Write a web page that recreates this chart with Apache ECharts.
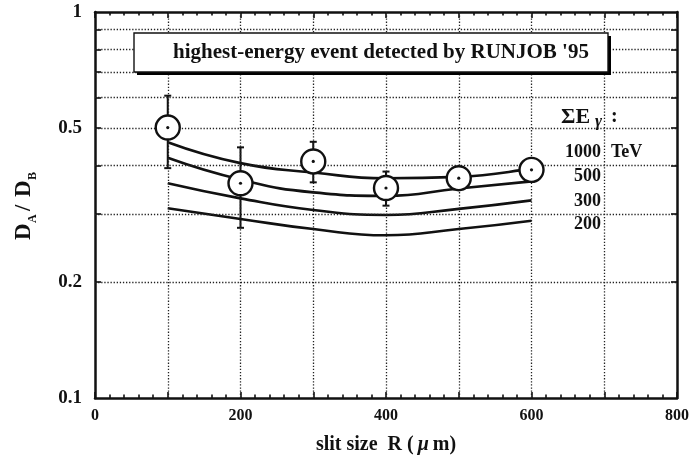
<!DOCTYPE html>
<html>
<head>
<meta charset="utf-8">
<script src="https://cdn.jsdelivr.net/npm/echarts@6/dist/echarts.min.js"></script>
<style>
  html, body { margin: 0; padding: 0; background: #fff; }
  #chart { width: 692px; height: 460px; }
</style>
</head>
<body>
<div id="chart"></div>
<script>
// Slit sizes (µm) and measured D_A/D_B ratios
const slitSizes = [100, 200, 300, 400, 500, 600];
const ratioMeasured = [0.502, 0.360, 0.410, 0.350, 0.371, 0.390];
const errorSizes = [100, 200, 300, 400];
const errorLow = [0.394, 0.276, 0.362, 0.315];
const errorHigh = [0.607, 0.446, 0.461, 0.386];

// Expected ratio curves for several total gamma energies
const curve1000 = [0.460, 0.406, 0.384, 0.371, 0.374, 0.394];
const curve500 = [0.419, 0.368, 0.341, 0.334, 0.349, 0.364];
const curve300 = [0.360, 0.329, 0.307, 0.298, 0.309, 0.325];
const curve200 = [0.310, 0.291, 0.274, 0.264, 0.274, 0.288];

// Axis ticks / labels
const yLabelValues = [0.1, 0.2, 0.5, 1];
const yGridValues = [0.2, 0.3, 0.4, 0.5, 0.6, 0.7, 0.8, 0.9];
const xGridValues = [100, 200, 300, 400, 500, 600, 700];

const energyLabels = ['1000', '500', '300', '200'];
const titleText = "highest-energy event detected by RUNJOB '95";

const SERIF = "'Liberation Serif', 'Times New Roman', serif";
const BLACK = '#111';

const zip = (xs, ys) => xs.map((x, i) => [x, ys[i]]);

function curveSeries(name, values) {
  return {
    name: name,
    type: 'line',
    data: zip(slitSizes, values),
    smooth: 0.5,
    showSymbol: false,
    symbol: 'none',
    silent: true,
    lineStyle: { color: BLACK, width: 2.6 },
    z: 3
  };
}

const gridLineStyle = { color: '#222', width: 1.3, type: [1.3, 1.8] };

const chart = echarts.init(document.getElementById('chart'), null, { renderer: 'canvas' });

const xAxisCommon = {
  type: 'value',
  min: 0,
  max: 800,
  interval: 100,
  axisLine: { show: true, onZero: false, lineStyle: { color: BLACK, width: 2.5 } },
  axisTick: { show: true, inside: true, length: 6, lineStyle: { color: BLACK, width: 1.6 } },
  minorTick: { show: true, splitNumber: 5, length: 3.5, lineStyle: { color: BLACK, width: 1.6 } },
  splitLine: { show: false }
};

const yAxisCommon = {
  type: 'log',
  logBase: 10,
  min: 0.1,
  max: 1,
  axisLine: { show: true, onZero: false, lineStyle: { color: BLACK, width: 2.5 } },
  axisTick: { show: true, inside: true, length: 6, customValues: yGridValues, lineStyle: { color: BLACK, width: 1.6 } },
  splitLine: { show: false }
};

const fmt = v => String(+Number(v).toPrecision(3));

const option = {
  animation: false,
  backgroundColor: '#fff',
  grid: { left: 95, right: 14, top: 12, bottom: 62 },
  xAxis: [
    Object.assign({}, xAxisCommon, {
      position: 'bottom',
      name: 'slit size  R (\u2009{mu|\u03bc}\u2009m)',
      nameLocation: 'middle',
      nameGap: 37,
      nameTextStyle: {
        fontFamily: SERIF, fontWeight: 'bold', fontSize: 20, color: BLACK,
        rich: { mu: { fontFamily: SERIF, fontWeight: 'bold', fontStyle: 'italic', fontSize: 20, color: BLACK } }
      },
      axisLabel: {
        margin: 10,
        fontFamily: SERIF, fontWeight: 'bold', fontSize: 16, color: BLACK,
        formatter: v => (v % 200 === 0 ? String(v) : '')
      }
    }),
    Object.assign({}, xAxisCommon, {
      position: 'top',
      axisLabel: { show: false }
    })
  ],
  yAxis: [
    Object.assign({}, yAxisCommon, {
      position: 'left',
      axisLabel: {
        margin: 13,
        customValues: yLabelValues,
        fontFamily: SERIF, fontWeight: 'bold', fontSize: 19, color: BLACK,
        formatter: fmt
      }
    }),
    Object.assign({}, yAxisCommon, {
      position: 'right',
      axisLabel: { show: false }
    })
  ],
  graphic: [
    // y-axis title: D_A / D_B, read bottom to top
    {
      type: 'group',
      x: 24,
      y: 205,
      rotation: Math.PI / 2,
      children: [
        { type: 'text', x: -35, y: 0, style: { text: 'D', font: 'bold 23px ' + SERIF, fill: BLACK, verticalAlign: 'middle', align: 'left' } },
        { type: 'text', x: -18, y: 9, style: { text: 'A', font: 'bold 12px ' + SERIF, fill: BLACK, verticalAlign: 'middle', align: 'left' } },
        { type: 'text', x: -6, y: 0, style: { text: '/', font: 'bold 23px ' + SERIF, fill: BLACK, verticalAlign: 'middle', align: 'left' } },
        { type: 'text', x: 8, y: 0, style: { text: 'D', font: 'bold 23px ' + SERIF, fill: BLACK, verticalAlign: 'middle', align: 'left' } },
        { type: 'text', x: 25, y: 9, style: { text: 'B', font: 'bold 12px ' + SERIF, fill: BLACK, verticalAlign: 'middle', align: 'left' } }
      ]
    },
    // title box with drop shadow
    {
      type: 'rect', z: 100,
      shape: { x: 137, y: 36, width: 474, height: 39 },
      style: { fill: '#000' }
    },
    {
      type: 'rect', z: 101,
      shape: { x: 134, y: 33, width: 474, height: 39 },
      style: { fill: '#fff', stroke: BLACK, lineWidth: 1.4 }
    },
    {
      type: 'text', z: 102, x: 381, y: 53,
      style: { text: titleText, font: 'bold 21px ' + SERIF, fill: BLACK, align: 'center', verticalAlign: 'middle' }
    },
    // energy legend
    { type: 'text', z: 50, x: 561, y: 117, style: { text: '\u03a3E', font: 'bold 22px ' + SERIF, fill: BLACK, align: 'left', verticalAlign: 'middle' } },
    { type: 'text', z: 50, x: 595, y: 122, style: { text: '\u03b3', font: 'italic bold 17px ' + SERIF, fill: BLACK, align: 'left', verticalAlign: 'middle' } },
    { type: 'text', z: 50, x: 611, y: 117, style: { text: ':', font: 'bold 20px ' + SERIF, fill: BLACK, align: 'left', verticalAlign: 'middle' } },
    { type: 'text', z: 50, x: 601, y: 152, style: { text: energyLabels[0], font: 'bold 18px ' + SERIF, fill: BLACK, align: 'right', verticalAlign: 'middle' } },
    { type: 'text', z: 50, x: 611, y: 152, style: { text: 'TeV', font: 'bold 18px ' + SERIF, fill: BLACK, align: 'left', verticalAlign: 'middle' } },
    { type: 'text', z: 50, x: 601, y: 176, style: { text: energyLabels[1], font: 'bold 18px ' + SERIF, fill: BLACK, align: 'right', verticalAlign: 'middle' } },
    { type: 'text', z: 50, x: 601, y: 201, style: { text: energyLabels[2], font: 'bold 18px ' + SERIF, fill: BLACK, align: 'right', verticalAlign: 'middle' } },
    { type: 'text', z: 50, x: 601, y: 224, style: { text: energyLabels[3], font: 'bold 18px ' + SERIF, fill: BLACK, align: 'right', verticalAlign: 'middle' } }
  ],
  series: [
    // dotted grid
    {
      type: 'line',
      data: [],
      silent: true,
      z: 1,
      markLine: {
        silent: true,
        symbol: ['none', 'none'],
        label: { show: false },
        lineStyle: gridLineStyle,
        animation: false,
        data: yGridValues.map(v => ({ yAxis: v })).concat(xGridValues.map(v => ({ xAxis: v })))
      }
    },
    curveSeries('1000 TeV', curve1000),
    curveSeries('500 TeV', curve500),
    curveSeries('300 TeV', curve300),
    curveSeries('200 TeV', curve200),
    // error bars
    {
      type: 'custom',
      silent: true,
      z: 4,
      data: errorSizes.map((x, i) => [x, errorLow[i], errorHigh[i]]),
      encode: { x: 0, y: [1, 2] },
      renderItem: function (params, api) {
        const x = api.value(0);
        const top = api.coord([x, api.value(2)]);
        const bot = api.coord([x, api.value(1)]);
        const half = 3.5;
        const st = { stroke: BLACK, lineWidth: 2 };
        return {
          type: 'group',
          children: [
            { type: 'line', shape: { x1: top[0], y1: top[1], x2: bot[0], y2: bot[1] }, style: st },
            { type: 'line', shape: { x1: top[0] - half, y1: top[1], x2: top[0] + half, y2: top[1] }, style: st },
            { type: 'line', shape: { x1: bot[0] - half, y1: bot[1], x2: bot[0] + half, y2: bot[1] }, style: st }
          ]
        };
      }
    },
    // open circles for the measurements
    {
      type: 'scatter',
      silent: true,
      z: 5,
      data: zip(slitSizes, ratioMeasured),
      symbol: 'circle',
      symbolSize: 24,
      itemStyle: { color: '#fff', borderColor: BLACK, borderWidth: 2.4, opacity: 1 }
    },
    // centre dots
    {
      type: 'scatter',
      silent: true,
      z: 6,
      data: zip(slitSizes, ratioMeasured),
      symbol: 'circle',
      symbolSize: 3.2,
      itemStyle: { color: BLACK, opacity: 1 }
    }
  ]
};

chart.setOption(option);
</script>
</body>
</html>
